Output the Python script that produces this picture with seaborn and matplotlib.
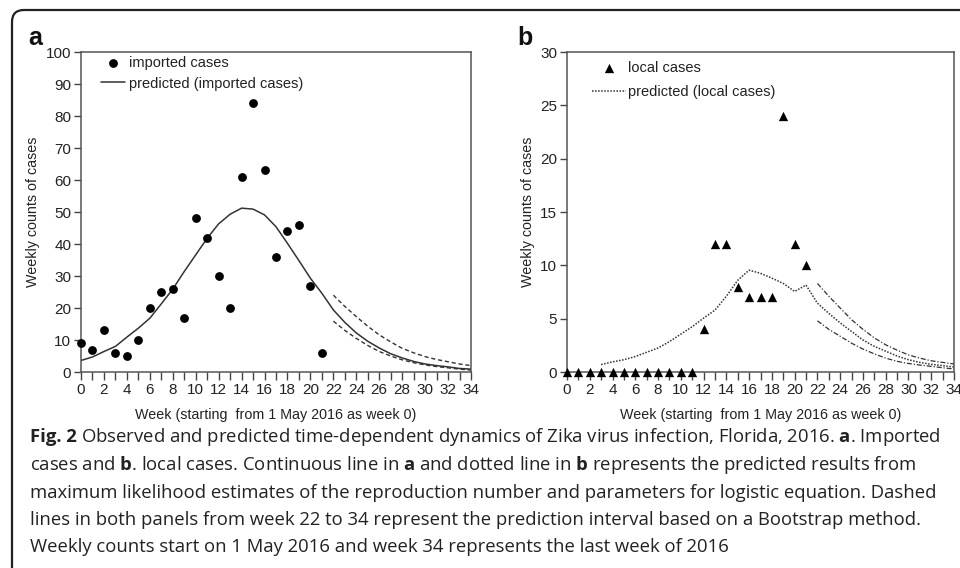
import numpy as np
import pandas as pd
import matplotlib
matplotlib.use("Agg")
import matplotlib.pyplot as plt
from matplotlib.patches import FancyBboxPatch
from matplotlib.transforms import IdentityTransform, offset_copy
from matplotlib.ticker import MultipleLocator
import seaborn as sns

# ----------------------------
# Data
# ----------------------------
obs_weeks = list(range(22))
imported_cases = [9, 7, 13, 6, 5, 10, 20, 25, 26, 17, 48, 42, 30, 20, 61, 84,
                  63, 36, 44, 46, 27, 6]
local_cases = [0, 0, 0, 0, 0, 0, 0, 0, 0, 0, 0, 0, 4, 12, 12, 8, 7, 7, 7, 24,
               12, 10]

pred_a_weeks = list(range(35))
pred_imported = [3.6, 4.7, 6.4, 8.0, 10.9, 13.7, 16.8, 21.3, 25.9, 31.4, 36.6,
                 41.8, 46.3, 49.3, 51.2, 50.9, 49.1, 45.4, 40.2, 34.8, 29.3,
                 24.6, 19.4, 15.5, 12.2, 9.6, 7.5, 5.7, 4.4, 3.3, 2.5, 2.0,
                 1.6, 1.1, 0.9]

pred_b_weeks = list(range(3, 35))
pred_local = [0.7, 0.95, 1.15, 1.45, 1.85, 2.25, 2.85, 3.55, 4.25, 5.05, 5.8,
              7.1, 8.6, 9.55, 9.25, 8.8, 8.3, 7.55, 8.15, 6.45, 5.5, 4.6, 3.8,
              3.0, 2.4, 1.95, 1.5, 1.15, 0.9, 0.72, 0.6, 0.47]

pi_weeks = list(range(22, 35))
pi_a_upper = [24.0, 20.5, 17.3, 14.3, 11.6, 9.4, 7.4, 6.0, 4.8, 3.9, 3.2, 2.5, 2.0]
pi_a_lower = [15.9, 13.0, 10.5, 8.3, 6.4, 5.0, 3.8, 2.9, 2.2, 1.7, 1.3, 0.9, 0.6]
pi_b_upper = [8.3, 7.1, 6.0, 4.9, 4.0, 3.2, 2.55, 2.05, 1.6, 1.3, 1.05, 0.9, 0.75]
pi_b_lower = [4.8, 4.0, 3.35, 2.7, 2.15, 1.7, 1.3, 1.0, 0.8, 0.65, 0.53, 0.4, 0.28]

caption_head = "Fig. 2"
caption_lines = [
    r"Observed and predicted time-dependent dynamics of Zika virus infection, Florida, 2016. $\mathbf{a}$. Imported",
    r"cases and $\mathbf{b}$. local cases. Continuous line in $\mathbf{a}$ and dotted line in $\mathbf{b}$ represents the predicted results from",
    "maximum likelihood estimates of the reproduction number and parameters for logistic equation. Dashed",
    "lines in both panels from week 22 to 34 represent the prediction interval based on a Bootstrap method.",
    "Weekly counts start on 1 May 2016 and week 34 represents the last week of 2016",
]

# ----------------------------
# Style
# ----------------------------
sns.set_style("white")
plt.rcParams["font.family"] = ["Liberation Sans", "DejaVu Sans"]
plt.rcParams["mathtext.fontset"] = "custom"
plt.rcParams["mathtext.rm"] = "Open Sans"
plt.rcParams["mathtext.bf"] = "Open Sans:bold"

LINE = "#333333"
XLABEL = "Week (starting  from 1 May 2016 as week 0)"
YLABEL = "Weekly counts of cases"

fig = plt.figure(figsize=(9.6, 5.68), dpi=100)
ax_a = fig.add_axes([81 / 960, 1 - 372 / 568, 390 / 960, 320 / 568])
ax_b = fig.add_axes([567 / 960, 1 - 372 / 568, 387 / 960, 320 / 568])


def style_axis(ax, ymax, ystep):
    ax.set_xlim(0, 34)
    ax.set_ylim(0, ymax)
    ax.xaxis.set_major_locator(MultipleLocator(2))
    ax.xaxis.set_minor_locator(MultipleLocator(1))
    ax.yaxis.set_major_locator(MultipleLocator(ystep))
    ax.tick_params(axis="both", which="both", direction="out", color="#444444",
                   width=1, labelsize=11, labelcolor="#222222")
    ax.tick_params(axis="x", which="both", length=6, pad=2)
    ax.tick_params(axis="y", which="major", length=5, pad=2)
    ax.tick_params(bottom=True, left=True, top=False, right=False, which="both")
    for sp in ax.spines.values():
        sp.set_color("#555555")
        sp.set_linewidth(1.1)
    ax.set_xlabel(XLABEL, fontsize=10.3, color="#222222", labelpad=8)
    ax.set_ylabel(YLABEL, fontsize=10.3, color="#222222", labelpad=4)


# ----------------------------
# Panel a: imported cases
# ----------------------------
df_a = pd.DataFrame({"week": obs_weeks, "cases": imported_cases})
sns.scatterplot(data=df_a, x="week", y="cases", ax=ax_a, color="black", s=40,
                edgecolor="black", linewidth=0, clip_on=False, zorder=3,
                label="imported cases")
sns.lineplot(x=pred_a_weeks, y=pred_imported, ax=ax_a, color=LINE, lw=1.1,
             errorbar=None, label="predicted (imported cases)")
sns.lineplot(x=pi_weeks, y=pi_a_upper, ax=ax_a, color=LINE, lw=1.0,
             linestyle=(0, (3, 2)), errorbar=None)
sns.lineplot(x=pi_weeks, y=pi_a_lower, ax=ax_a, color=LINE, lw=1.0,
             linestyle=(0, (3, 2)), errorbar=None)
style_axis(ax_a, 100, 10)
ax_a.legend(loc="upper left", bbox_to_anchor=(20 / 390, 1 - 4 / 320),
            frameon=False, fontsize=10.5, borderpad=0, borderaxespad=0,
            handlelength=1.65, handletextpad=0.25, labelspacing=0.45,
            labelcolor="#222222")

# ----------------------------
# Panel b: local cases
# ----------------------------
df_b = pd.DataFrame({"week": obs_weeks, "cases": local_cases})
sns.scatterplot(data=df_b, x="week", y="cases", ax=ax_b, color="black",
                marker="^", s=45, edgecolor="black", linewidth=0,
                clip_on=False, zorder=3, label="local cases")
sns.lineplot(x=pred_b_weeks, y=pred_local, ax=ax_b, color=LINE, lw=1.1,
             linestyle=(0, (1, 1)), errorbar=None,
             label="predicted (local cases)")
sns.lineplot(x=pi_weeks, y=pi_b_upper, ax=ax_b, color=LINE, lw=0.9,
             linestyle=(0, (4, 1.5, 1, 1.5)), errorbar=None)
sns.lineplot(x=pi_weeks, y=pi_b_lower, ax=ax_b, color=LINE, lw=0.9,
             linestyle=(0, (4, 1.5, 1, 1.5)), errorbar=None)
style_axis(ax_b, 30, 5)
ax_b.legend(loc="upper left", bbox_to_anchor=(25 / 387, 1 - 9 / 320),
            frameon=False, fontsize=10.5, borderpad=0, borderaxespad=0,
            handlelength=2.3, handletextpad=0.2, labelspacing=0.7,
            labelcolor="#222222")

# panel letters
fig.text(28 / 960, 1 - 38 / 568, "a", fontsize=18, fontweight="bold",
         va="center", ha="left", color="#111111")
fig.text(517 / 960, 1 - 38 / 568, "b", fontsize=18, fontweight="bold",
         va="center", ha="left", color="#111111")

# ----------------------------
# Caption (baselines)
# ----------------------------
cap_y = [442, 470, 498, 525, 552]
head = fig.text(30 / 960, 1 - cap_y[0] / 568, caption_head, fontsize=13.3,
                family="Open Sans", fontweight="bold", va="baseline",
                ha="left", color="#222222")
fig.canvas.draw()
head_w = head.get_window_extent().width
for i, (line, y) in enumerate(zip(caption_lines, cap_y)):
    if i == 0:
        fig.text(30 / 960, 1 - y / 568, line, fontsize=13.3,
                 family="Open Sans", va="baseline", ha="left",
                 color="#222222",
                 transform=offset_copy(fig.transFigure, fig=fig,
                                       x=(head_w + 4.5) * 72 / fig.dpi,
                                       y=0, units="points"))
    else:
        fig.text(30 / 960, 1 - y / 568, line, fontsize=13.3,
                 family="Open Sans", va="baseline", ha="left",
                 color="#222222")

# rounded frame around the figure block
frame = FancyBboxPatch((12, -30), 1000, 568 - 10 + 30,
                       boxstyle="round,pad=0,rounding_size=12",
                       transform=IdentityTransform(), fill=False,
                       edgecolor="#222222", linewidth=1.6)
fig.add_artist(frame)

fig.savefig("out.png", dpi=100)
